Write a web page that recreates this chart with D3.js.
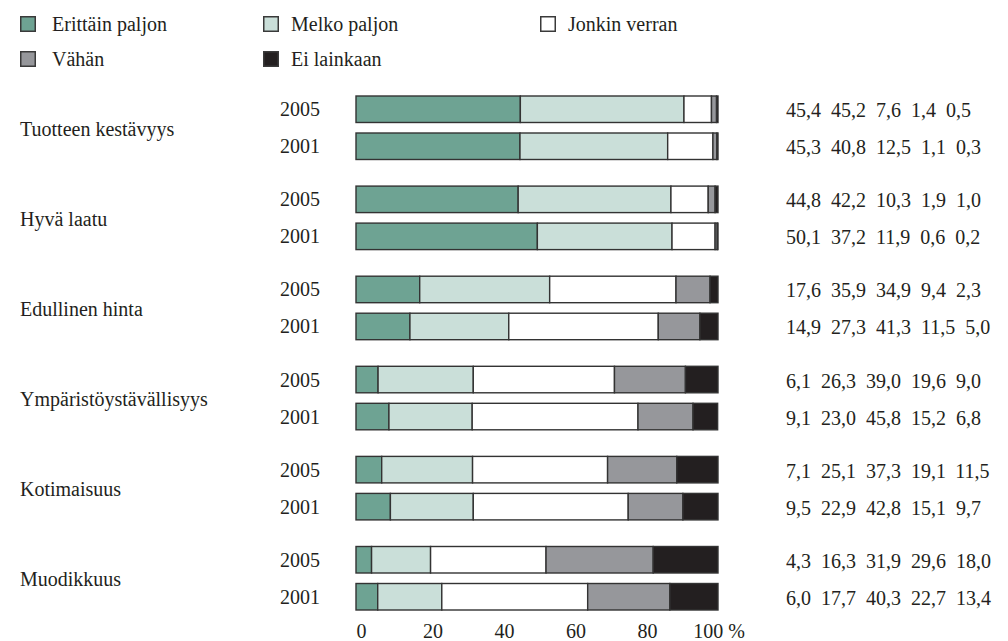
<!DOCTYPE html>
<html>
<head>
<meta charset="utf-8">
<script src="https://cdn.jsdelivr.net/npm/d3@7"></script>
<style>
  html, body { margin: 0; padding: 0; background: #fff; }
  svg { display: block; }
  text { font-family: "Liberation Serif", "DejaVu Serif", serif; fill: #231f20; }
</style>
</head>
<body>
<svg id="chart" width="1008" height="641"></svg>
<script>
// ---- Data ----
const categories = ["Tuotteen kestävyys", "Hyvä laatu", "Edullinen hinta",
                    "Ympäristöystävällisyys", "Kotimaisuus", "Muodikkuus"];
const years = ["2005", "2001"];
const seriesNames = ["Erittäin paljon", "Melko paljon", "Jonkin verran", "Vähän", "Ei lainkaan"];
const seriesColors = ["#6ea393", "#cadfd9", "#ffffff", "#96979b", "#231f20"];
const values2005 = [
  [45.4, 45.2, 7.6, 1.4, 0.5],
  [44.8, 42.2, 10.3, 1.9, 1.0],
  [17.6, 35.9, 34.9, 9.4, 2.3],
  [6.1, 26.3, 39.0, 19.6, 9.0],
  [7.1, 25.1, 37.3, 19.1, 11.5],
  [4.3, 16.3, 31.9, 29.6, 18.0]
];
const values2001 = [
  [45.3, 40.8, 12.5, 1.1, 0.3],
  [50.1, 37.2, 11.9, 0.6, 0.2],
  [14.9, 27.3, 41.3, 11.5, 5.0],
  [9.1, 23.0, 45.8, 15.2, 6.8],
  [9.5, 22.9, 42.8, 15.1, 9.7],
  [6.0, 17.7, 40.3, 22.7, 13.4]
];
const tickValues = [0, 20, 40, 60, 80, 100];

// ---- Build rows ----
const rows = [];
categories.forEach((c, i) => {
  [values2005[i], values2001[i]].forEach((vals, j) => {
    let acc = 0;
    const segs = vals.map((v, k) => { const s = {x0: acc, x1: acc + v, k}; acc += v; return s; });
    rows.push({category: c, year: years[j], values: vals, segs});
  });
});

const svg = d3.select("#chart");
const fmt = d3.formatLocale({decimal: ",", thousands: " ", grouping: [3], currency: ["", ""]}).format(".1f");
const FS = 20;

// ---- Scales ----
const x = d3.scaleLinear().domain([0, 100]).range([356, 718]);
const xAxisScale = d3.scaleLinear().domain([0, 100]).range([361, 718.5]);
const yGroup = d3.scaleBand().domain(categories).range([96, 96 + 6 * 90.1]);
const yYear = d3.scaleBand().domain(years).range([0, 63.5]).paddingInner(0.284);
const barY = r => yGroup(r.category) + yYear(r.year);
const bh = yYear.bandwidth();

// ---- Legend ----
const legendPos = [[20, 24, 32], [263, 24, 28], [540, 24, 28], [20, 59, 32], [263, 59, 28]];
const lg = svg.append("g").selectAll("g").data(seriesNames).join("g")
  .attr("transform", (d, i) => `translate(${legendPos[i][0]},${legendPos[i][1]})`);
lg.append("rect").attr("x", 0.75).attr("y", -7.25).attr("width", 14.5).attr("height", 14.5)
  .attr("fill", (d, i) => seriesColors[i]).attr("stroke", "#3a3a3a").attr("stroke-width", 1.5);
lg.append("text").attr("x", (d, i) => legendPos[i][2]).attr("y", 0).attr("dy", "0.35em")
  .attr("font-size", FS).text(d => d);

// ---- Category labels ----
svg.append("g").selectAll("text").data(categories).join("text")
  .attr("x", 20).attr("y", d => yGroup(d) + 63.5 / 2 + 1).attr("dy", "0.35em")
  .attr("font-size", FS).text(d => d);

// ---- Year labels ----
svg.append("g").selectAll("text").data(rows).join("text")
  .attr("x", 320).attr("y", r => barY(r) + bh / 2).attr("dy", "0.35em")
  .attr("text-anchor", "end").attr("font-size", FS).text(r => r.year);

// ---- Bars ----
const barG = svg.append("g").selectAll("g").data(rows).join("g")
  .attr("transform", r => `translate(0,${barY(r)})`);
barG.selectAll("rect").data(r => r.segs).join("rect")
  .attr("x", s => x(s.x0)).attr("width", s => Math.max(0, x(Math.min(100, s.x1)) - x(s.x0)))
  .attr("y", 0).attr("height", bh)
  .attr("fill", s => seriesColors[s.k])
  .attr("stroke", "#333333").attr("stroke-width", 1.4);

// ---- Value texts ----
const vt = svg.append("g").selectAll("text").data(rows).join("text")
  .attr("x", 786).attr("y", r => barY(r) + bh / 2 + 1).attr("dy", "0.35em")
  .attr("font-size", FS);
vt.selectAll("tspan").data(r => r.values).join("tspan")
  .attr("dx", (d, i) => i === 0 ? 0 : 10)
  .text(d => fmt(d));

// ---- Axis ----
const axis = d3.axisBottom(xAxisScale).tickValues(tickValues).tickSize(0).tickPadding(0)
  .tickFormat(d => d === 100 ? "100 %" : d);
const ag = svg.append("g").attr("transform", "translate(0,624)").call(axis);
ag.select(".domain").remove();
ag.selectAll("text").attr("font-size", FS).attr("font-family", "Liberation Serif, serif")
  .attr("fill", "#231f20").attr("dy", "0.71em");
</script>
</body>
</html>
